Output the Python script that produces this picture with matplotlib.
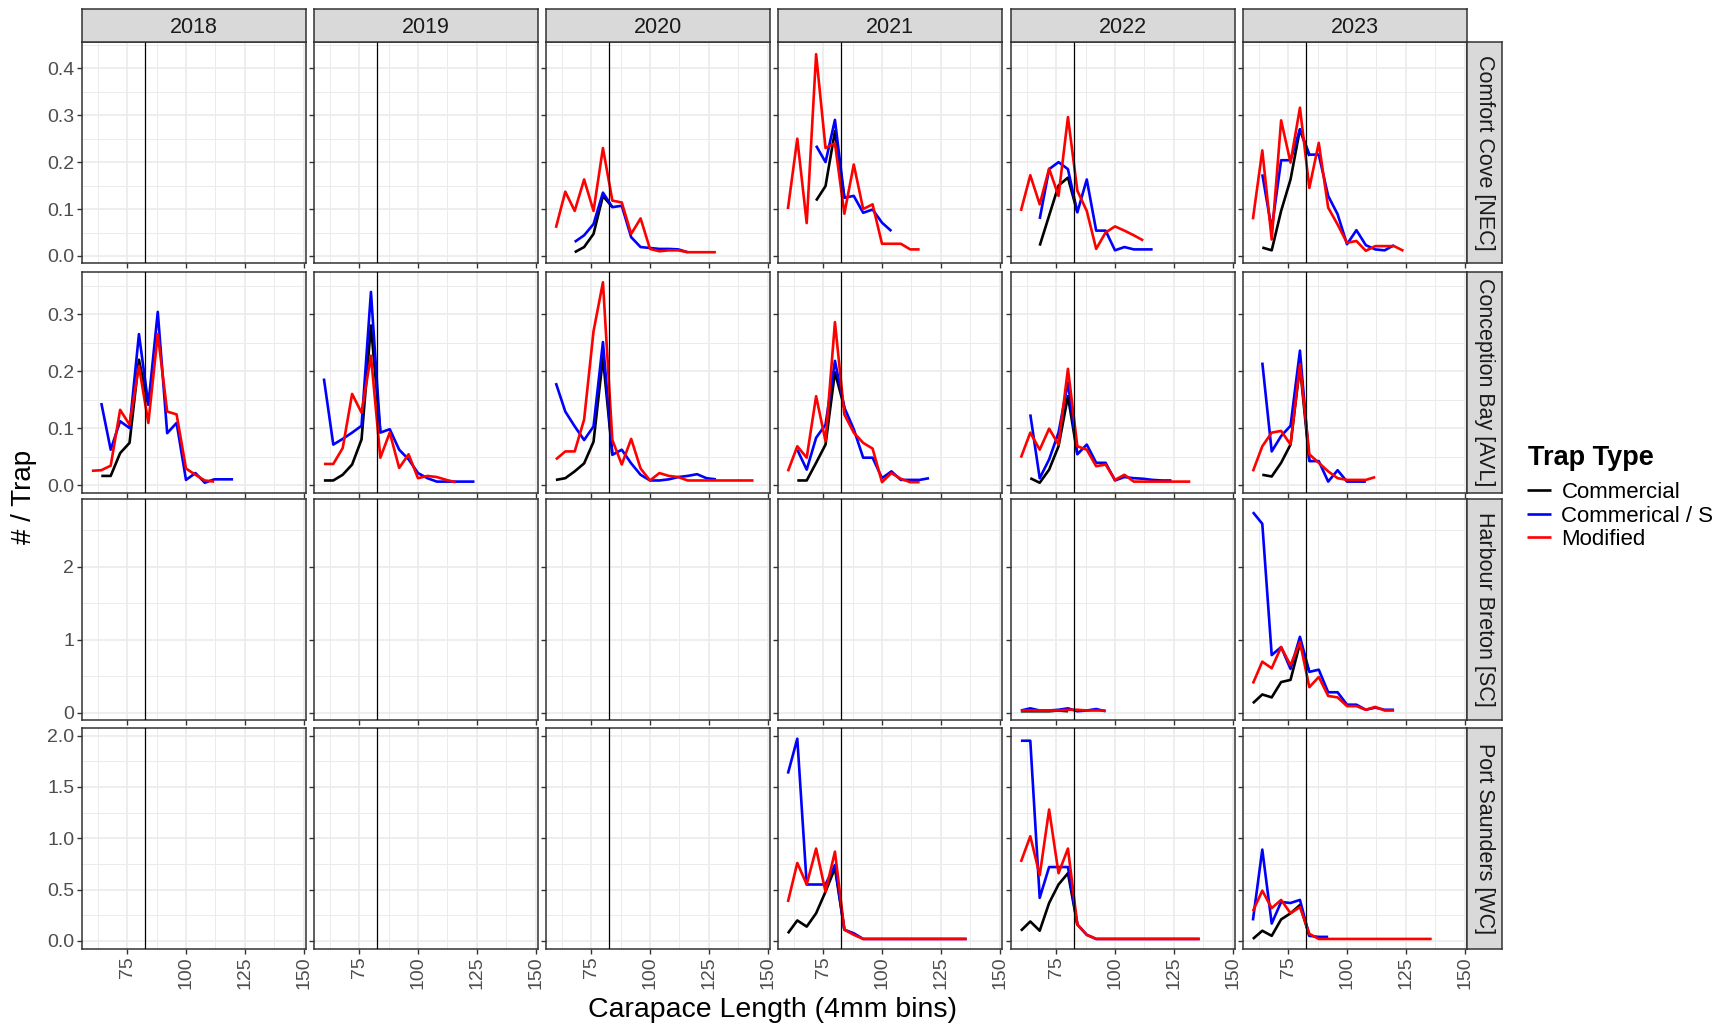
import numpy as np
import matplotlib.pyplot as plt
from matplotlib.ticker import MultipleLocator, FormatStrFormatter

plt.rcParams['font.family'] = ['Liberation Sans', 'DejaVu Sans']

YEARS = ["2018", "2019", "2020", "2021", "2022", "2023"]
SITES = ["Comfort Cove [NEC]", "Conception Bay [AVL]",
         "Harbour Breton [SC]", "Port Saunders [WC]"]
TRAP_TYPES = ["Commercial", "Commerical / S", "Modified"]
TRAP_COLORS = ["black", "blue", "red"]
BIN_WIDTH = 4          # mm
LEGAL_SIZE = 82.5      # vertical reference line

# each series = (first bin in mm, catch per trap in every 4mm bin after it)
# --- Comfort Cove [NEC]
cc20_com = (68, [0.008, 0.019, 0.047, 0.128, 0.104])
cc20_sci = (68, [0.03, 0.044, 0.068, 0.135, 0.104, 0.107, 0.04, 0.019, 0.017, 0.015, 0.015, 0.014, 0.008])
cc20_mod = (60, [0.06, 0.137, 0.096, 0.163, 0.096, 0.23, 0.118, 0.114, 0.047, 0.08, 0.015, 0.01,
                 0.012, 0.012, 0.008, 0.008, 0.008, 0.008])
cc21_com = (72, [0.118, 0.149, 0.266, 0.124])
cc21_sci = (72, [0.235, 0.20, 0.29, 0.124, 0.128, 0.092, 0.099, 0.071, 0.053])
cc21_mod = (60, [0.10, 0.25, 0.07, 0.43, 0.23, 0.24, 0.09, 0.195, 0.10, 0.11, 0.026, 0.026, 0.026, 0.014, 0.014])
cc22_com = (68, [0.022, 0.086, 0.15, 0.167, 0.093])
cc22_sci = (68, [0.079, 0.185, 0.2, 0.185, 0.093, 0.163, 0.054, 0.054, 0.012, 0.019, 0.014, 0.014, 0.014])
cc22_mod = (60, [0.096, 0.172, 0.11, 0.186, 0.128, 0.296, 0.139, 0.096, 0.015, 0.05, 0.063, 0.054, 0.044, 0.033])
cc23_com = (64, [0.018, 0.012, 0.096, 0.163, 0.27, 0.213])
cc23_sci = (64, [0.174, 0.057, 0.204, 0.204, 0.27, 0.216, 0.216, 0.128, 0.089, 0.025, 0.055, 0.023,
                 0.014, 0.012, 0.023])
cc23_mod = (60, [0.078, 0.225, 0.035, 0.289, 0.199, 0.316, 0.145, 0.241, 0.103, 0.067, 0.028, 0.032,
                 0.011, 0.021, 0.021, 0.021, 0.011])

# --- Conception Bay [AVL]
cb18_com = (64, [0.016, 0.016, 0.056, 0.074, 0.22, 0.14])
cb18_sci = (64, [0.144, 0.062, 0.112, 0.10, 0.265, 0.141, 0.304, 0.091, 0.109, 0.009, 0.021, 0.004,
                 0.01, 0.01, 0.01])
cb18_mod = (60, [0.025, 0.026, 0.034, 0.132, 0.106, 0.209, 0.109, 0.265, 0.129, 0.124, 0.029, 0.018,
                 0.008, 0.006])
cb19_com = (60, [0.008, 0.008, 0.018, 0.036, 0.08, 0.28, 0.092])
cb19_sci = (60, [0.187, 0.071, 0.081, 0.092, 0.104, 0.339, 0.092, 0.098, 0.062, 0.045, 0.021, 0.012,
                 0.006, 0.006, 0.006, 0.006, 0.006])
cb19_mod = (60, [0.037, 0.037, 0.065, 0.16, 0.127, 0.227, 0.048, 0.092, 0.03, 0.054, 0.012, 0.016,
                 0.014, 0.009, 0.005])
cb20_com = (60, [0.009, 0.012, 0.024, 0.038, 0.076, 0.224, 0.053])
cb20_sci = (60, [0.179, 0.129, 0.103, 0.079, 0.103, 0.251, 0.053, 0.062, 0.038, 0.018, 0.008, 0.008,
                 0.01, 0.014, 0.016, 0.019, 0.012, 0.01])
cb20_mod = (60, [0.045, 0.059, 0.059, 0.115, 0.27, 0.356, 0.079, 0.036, 0.081, 0.029, 0.008, 0.021,
                 0.016, 0.014, 0.008, 0.008, 0.008, 0.008, 0.008, 0.008, 0.008, 0.008])
cb21_com = (64, [0.008, 0.008, 0.039, 0.071, 0.198, 0.136])
cb21_sci = (64, [0.062, 0.027, 0.083, 0.106, 0.218, 0.136, 0.098, 0.048, 0.048, 0.012, 0.024, 0.009,
                 0.009, 0.009, 0.012])
cb21_mod = (60, [0.024, 0.068, 0.048, 0.156, 0.077, 0.286, 0.124, 0.092, 0.074, 0.064, 0.005, 0.021,
                 0.011, 0.005, 0.005])
cb22_com = (64, [0.012, 0.004, 0.027, 0.068, 0.156, 0.054])
cb22_sci = (64, [0.124, 0.012, 0.045, 0.092, 0.18, 0.054, 0.071, 0.039, 0.039, 0.008, 0.014, 0.012,
                 0.011, 0.009, 0.008, 0.008])
cb22_mod = (60, [0.048, 0.092, 0.062, 0.099, 0.071, 0.204, 0.068, 0.062, 0.033, 0.036, 0.009, 0.018,
                 0.006, 0.006, 0.006, 0.006, 0.006, 0.006, 0.006])
cb23_com = (64, [0.018, 0.015, 0.039, 0.071, 0.209, 0.042])
cb23_sci = (64, [0.215, 0.059, 0.086, 0.104, 0.236, 0.042, 0.042, 0.006, 0.026, 0.006, 0.006, 0.006])
cb23_mod = (60, [0.024, 0.068, 0.092, 0.095, 0.071, 0.212, 0.054, 0.039, 0.024, 0.012, 0.009, 0.009,
                 0.009, 0.014])

# --- Harbour Breton [SC]
hb22_com = (60, [0.02, 0.02, 0.02, 0.02, 0.03, 0.02])
hb22_sci = (60, [0.03, 0.06, 0.03, 0.03, 0.04, 0.06, 0.02, 0.03, 0.05, 0.02])
hb22_mod = (60, [0.03, 0.03, 0.03, 0.03, 0.03, 0.04, 0.04, 0.03, 0.03, 0.03])
hb23_com = (60, [0.13, 0.25, 0.21, 0.42, 0.45, 0.95, 0.56])
hb23_sci = (60, [2.75, 2.59, 0.79, 0.9, 0.6, 1.04, 0.56, 0.59, 0.28, 0.28, 0.11, 0.11, 0.04, 0.07, 0.04, 0.04])
hb23_mod = (60, [0.4, 0.7, 0.61, 0.9, 0.65, 0.97, 0.35, 0.49, 0.23, 0.21, 0.09, 0.09, 0.04, 0.08, 0.03, 0.03])

# --- Port Saunders [WC]
ps21_com = (60, [0.075, 0.2, 0.14, 0.27, 0.48, 0.71, 0.11])
ps21_sci = (60, [1.63, 1.97, 0.55, 0.55, 0.55, 0.74, 0.11, 0.075, 0.02, 0.02, 0.02, 0.02, 0.02, 0.02,
                 0.02, 0.02, 0.02, 0.02, 0.02, 0.02])
ps21_mod = (60, [0.38, 0.76, 0.55, 0.9, 0.48, 0.87, 0.11, 0.06, 0.02, 0.02, 0.02, 0.02, 0.02, 0.02,
                 0.02, 0.02, 0.02, 0.02, 0.02, 0.02])
ps22_com = (60, [0.1, 0.19, 0.1, 0.37, 0.55, 0.66, 0.16])
ps22_sci = (60, [1.95, 1.95, 0.42, 0.72, 0.72, 0.72, 0.16, 0.06, 0.02, 0.02, 0.02, 0.02, 0.02, 0.02,
                 0.02, 0.02, 0.02, 0.02, 0.02, 0.02])
ps22_mod = (60, [0.77, 1.02, 0.64, 1.28, 0.66, 0.9, 0.16, 0.06, 0.02, 0.02, 0.02, 0.02, 0.02, 0.02,
                 0.02, 0.02, 0.02, 0.02, 0.02, 0.02])
ps23_com = (60, [0.02, 0.1, 0.05, 0.21, 0.27, 0.35, 0.05])
ps23_sci = (60, [0.2, 0.89, 0.17, 0.38, 0.37, 0.4, 0.05, 0.04, 0.04])
ps23_mod = (60, [0.29, 0.49, 0.32, 0.4, 0.27, 0.33, 0.07, 0.02, 0.02, 0.02, 0.02, 0.02, 0.02, 0.02,
                 0.02, 0.02, 0.02, 0.02, 0.02, 0.02])

PANELS = {
    (0, "2020"): [cc20_com, cc20_sci, cc20_mod],
    (0, "2021"): [cc21_com, cc21_sci, cc21_mod],
    (0, "2022"): [cc22_com, cc22_sci, cc22_mod],
    (0, "2023"): [cc23_com, cc23_sci, cc23_mod],
    (1, "2018"): [cb18_com, cb18_sci, cb18_mod],
    (1, "2019"): [cb19_com, cb19_sci, cb19_mod],
    (1, "2020"): [cb20_com, cb20_sci, cb20_mod],
    (1, "2021"): [cb21_com, cb21_sci, cb21_mod],
    (1, "2022"): [cb22_com, cb22_sci, cb22_mod],
    (1, "2023"): [cb23_com, cb23_sci, cb23_mod],
    (2, "2022"): [hb22_com, hb22_sci, hb22_mod],
    (2, "2023"): [hb23_com, hb23_sci, hb23_mod],
    (3, "2021"): [ps21_com, ps21_sci, ps21_mod],
    (3, "2022"): [ps22_com, ps22_sci, ps22_mod],
    (3, "2023"): [ps23_com, ps23_sci, ps23_mod],
}

# free y scale per row (ggplot facet_grid style)
ROW_YLIM = [(-0.015, 0.456), (-0.014, 0.374), (-0.10, 2.93), (-0.078, 2.074)]
ROW_MAJOR = [0.1, 0.1, 1.0, 0.5]
ROW_FMT = ["%.1f", "%.1f", "%.0f", "%.1f"]
XLIM = (55.8, 151)

# layout in pixels of the 1732 x 1029 output
W, H = 1732, 1029
COL_LEFT = [82, 314, 546, 778, 1011, 1243]
ROW_TOP = [42, 272, 499, 728]
PW, PH = 224, 221
STRIP = 33

GRID = "#EBEBEB"
EDGE = "#333333"
TICKTXT = "#4D4D4D"
STRIPBG = "#D9D9D9"


def px_rect(left, top, w, h):
    return [left / W, 1 - (top + h) / H, w / W, h / H]


def strip_axes(rect, label, rot):
    sax = fig.add_axes(rect)
    sax.set_facecolor(STRIPBG)
    sax.set_xticks([])
    sax.set_yticks([])
    for sp in sax.spines.values():
        sp.set_color(EDGE)
        sp.set_linewidth(1.1)
    sax.text(0.5 if rot else 0.5, 0.5 if rot else 0.45, label, ha="center", va="center",
             rotation=rot, fontsize=15.5, color="#1A1A1A", transform=sax.transAxes)
    return sax


fig = plt.figure(figsize=(W / 100, H / 100), dpi=100)
fig.patch.set_facecolor("white")

handles = {}
for r, site in enumerate(SITES):
    for c, year in enumerate(YEARS):
        ax = fig.add_axes(px_rect(COL_LEFT[c], ROW_TOP[r], PW, PH))
        ax.set_xlim(*XLIM)
        ax.set_ylim(*ROW_YLIM[r])
        ax.xaxis.set_major_locator(MultipleLocator(25))
        ax.xaxis.set_minor_locator(MultipleLocator(12.5))
        ax.yaxis.set_major_locator(MultipleLocator(ROW_MAJOR[r]))
        ax.yaxis.set_minor_locator(MultipleLocator(ROW_MAJOR[r] / 2))
        ax.yaxis.set_major_formatter(FormatStrFormatter(ROW_FMT[r]))
        ax.grid(which="major", color=GRID, lw=1.2)
        ax.grid(which="minor", color=GRID, lw=0.7)
        ax.set_axisbelow(True)
        for sp in ax.spines.values():
            sp.set_color(EDGE)
            sp.set_linewidth(1.1)
        ax.tick_params(which="major", length=3.5, width=1.0, color=EDGE,
                       labelcolor=TICKTXT, labelsize=14, pad=2)
        ax.tick_params(which="minor", length=0)
        ax.tick_params(axis="x", labelbottom=(r == len(SITES) - 1))
        ax.tick_params(axis="y", labelleft=(c == 0))
        if r == len(SITES) - 1:
            for lab in ax.get_xticklabels():
                lab.set_rotation(90)
                lab.set_va("top")
                lab.set_ha("center")

        for (start, vals), name, col in zip(PANELS.get((r, year), []), TRAP_TYPES, TRAP_COLORS):
            x = start + BIN_WIDTH * np.arange(len(vals))
            ln, = ax.plot(x, vals, color=col, lw=1.9, solid_joinstyle="round",
                          solid_capstyle="butt", zorder=2)
            handles.setdefault(name, ln)
        ax.axvline(LEGAL_SIZE, color="black", lw=0.9, zorder=3)

        # year strips on top, site strips on the right
        if r == 0:
            strip_axes(px_rect(COL_LEFT[c], ROW_TOP[0] - STRIP, PW, STRIP), year, 0)
        if c == len(YEARS) - 1:
            strip_axes(px_rect(COL_LEFT[c] + PW, ROW_TOP[r], 35, PH), site, -90)

fig.text(773 / W, 1 - 1010 / H, "Carapace Length (4mm bins)", ha="center", va="center",
         fontsize=20.5, color="black")
fig.text(24 / W, 1 - 497 / H, "# / Trap", ha="center", va="center", rotation=90,
         fontsize=20, color="black")

fig.text(1528 / W, 1 - 458 / H, "Trap Type", ha="left", va="center",
         fontsize=19.5, fontweight="bold", color="black")
fig.legend([handles[t] for t in TRAP_TYPES], TRAP_TYPES,
           loc="center left", bbox_to_anchor=(1527 / W, 1 - 516 / H), frameon=False,
           fontsize=16, handlelength=1.1, handletextpad=0.45, labelspacing=0.12,
           borderpad=0, borderaxespad=0)

fig.savefig("out.png", dpi=100)
